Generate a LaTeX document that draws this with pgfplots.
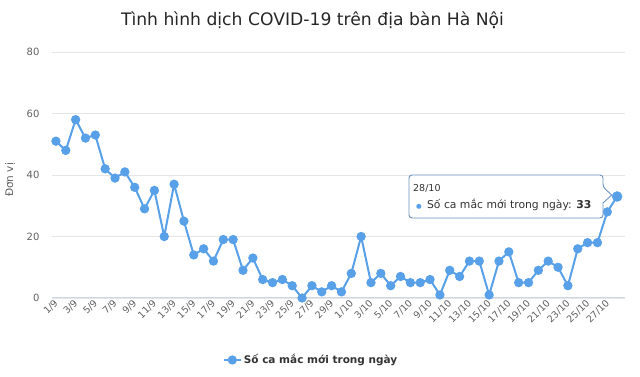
\documentclass[border=0pt]{standalone}
\usepackage{fontspec}
\setmainfont{DejaVu Sans}
\usepackage{pgfplots}
\pgfplotsset{compat=1.18}
\definecolor{ser}{RGB}{88,160,232}
\definecolor{gridc}{RGB}{230,230,230}
\definecolor{axl}{RGB}{204,214,235}
\definecolor{lab}{RGB}{96,96,96}
\definecolor{txt}{RGB}{51,51,51}
\begin{document}
\begin{tikzpicture}[x=1pt,y=1pt]
\useasboundingbox (-52,-79) rectangle (588,298);
\begin{axis}[at={(0,0)}, anchor=south west, scale only axis,
  width=573pt, height=246pt,
  xmin=-0.4, xmax=57.8, ymin=0, ymax=80,
  ytick={0,20,40,60,80},
  /pgf/number format/assume math mode=true,
  ymajorgrids, grid style={gridc, line width=0.8pt},
  axis x line*=bottom, axis y line*=left,
  x axis line style={axl, line width=1pt, -},
  y axis line style={draw=none},
  major tick length=0pt, tick style={draw=none},
  xtick={0,2,...,56},
  xticklabels={1/9,3/9,5/9,7/9,9/9,11/9,13/9,15/9,17/9,19/9,21/9,23/9,25/9,27/9,29/9,1/10,3/10,5/10,7/10,9/10,11/10,13/10,15/10,17/10,19/10,21/10,23/10,25/10,27/10},
  x tick label style={rotate=45, anchor=east, font=\fontsize{9.5}{11}\selectfont, text=lab, yshift=-3pt, xshift=1pt},
  y tick label style={font=\fontsize{10}{11}\selectfont, text=lab, xshift=-9pt},
  ylabel={Đơn vị},
  every axis y label/.style={at={(axis description cs:-0.0733,0.48)}, anchor=center, rotate=90, font=\fontsize{10.5}{12}\selectfont, text=lab},
  title={Tình hình dịch COVID-19 trên địa bàn Hà Nội},
  every axis title/.style={at={(axis description cs:0.4546,1)}, anchor=center, yshift=32pt, font=\fontsize{17.2}{20}\selectfont, text=black!85},
  legend style={at={(axis description cs:0.452,0)}, anchor=center, yshift=-62pt, draw=none, fill=none, font=\bfseries\fontsize{10.5}{12}\selectfont, text=txt},
  legend cell align=left,
  clip=false,
]
\addplot[ser, line width=2pt, mark=*, mark size=3.6pt, mark options={fill=ser, draw=ser}] table {
x y
0 51
1 48
2 58
3 52
4 53
5 42
6 39
7 41
8 36
9 29
10 35
11 20
12 37
13 25
14 14
15 16
16 12
17 19
18 19
19 9
20 13
21 6
22 5
23 6
24 4
25 0
26 4
27 2
28 4
29 2
30 8
31 20
32 5
33 8
34 4
35 7
36 5
37 5
38 6
39 1
40 9
41 7
42 12
43 12
44 1
45 12
46 15
47 5
48 5
49 9
50 12
51 10
52 4
53 16
54 18
55 18
56 28
57 33
};
\addlegendentry{Số ca mắc mới trong ngày}
\addplot[forget plot, only marks, mark=*, mark size=5pt, mark options={fill=ser, draw=ser}] coordinates {(57,33)};
\end{axis}
% tooltip
\draw[ser!60!gray, line width=0.9pt, fill=white, fill opacity=0.92, rounded corners=3pt]
  (357,123) -- (551,123) -- (551,111) [sharp corners] -- (559.7,103) -- (551,95) [rounded corners=3pt] -- (551,80) -- (357,80) -- cycle;
\node[anchor=west, font=\fontsize{9.5}{11}\selectfont, text=txt, inner sep=0pt] at (361,110) {28/10};
\node[anchor=west, font=\fontsize{10.8}{12}\selectfont, text=txt, inner sep=0pt] at (364,93) {{\color{ser}\fontsize{6.5}{7}\selectfont ●}\, Số ca mắc mới trong ngày: \textbf{33}};
\end{tikzpicture}
\end{document}
